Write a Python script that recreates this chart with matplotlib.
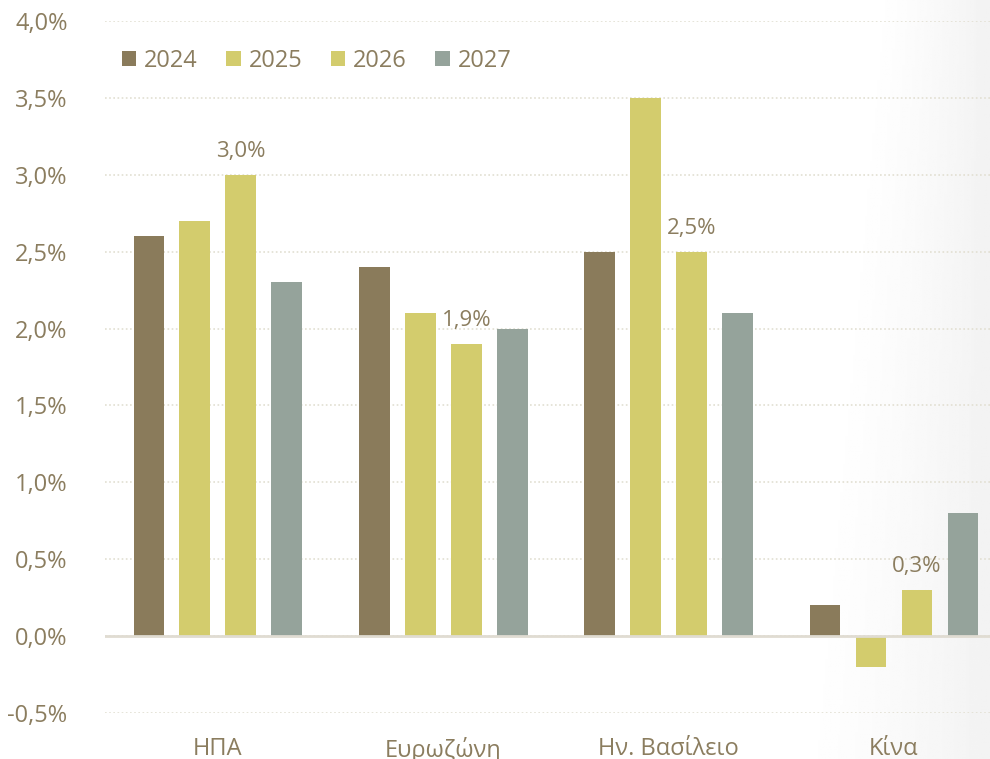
import matplotlib.pyplot as plt
import numpy as np

plt.rcParams['font.family'] = ['Open Sans', 'DejaVu Sans']

# data
countries = ['ΗΠΑ', 'Ευρωζώνη', 'Ην. Βασίλειο', 'Κίνα']
years = ['2024', '2025', '2026', '2027']
v2024 = [2.6, 2.4, 2.5, 0.2]
v2025 = [2.7, 2.1, 3.5, -0.2]
v2026 = [3.0, 1.9, 2.5, 0.3]
v2027 = [2.3, 2.0, 2.1, 0.8]
yticks = [-0.5, 0.0, 0.5, 1.0, 1.5, 2.0, 2.5, 3.0, 3.5, 4.0]

colors = ['#8a7b5b', '#d3cc6d', '#d3cc6d', '#95a39b']
text_col = '#8b7d5f'
grid_col = '#e2dfd2'

fig = plt.figure(figsize=(9.9, 7.59), dpi=100)

# light grey shading on the right side
bg = fig.add_axes([0, 0, 1, 1], zorder=-1)
gx = np.linspace(0, 1, 400)
gy = np.linspace(0, 1, 300)
X, Y = np.meshgrid(gx, gy)
start = 0.80 + 0.08 * Y
shade = np.clip((X - start) / (1 - start), 0, 1) ** 1.3
img = 1 - 0.05 * shade
bg.imshow(img, cmap='gray', vmin=0, vmax=1, aspect='auto', origin='lower',
          extent=[0, 1, 0, 1])
bg.axis('off')

ax = fig.add_axes([105 / 990, 1 - 713 / 759, 885 / 990, (713 - 21) / 759])
ax.set_facecolor('none')

x = np.arange(len(countries))
w = 0.137
step = 0.204
series = [v2024, v2025, v2026, v2027]
for i, (vals, c, yr) in enumerate(zip(series, colors, years)):
    ax.bar(x + (i - 1.5) * step, vals, width=w, color=c, label=yr, zorder=3)

# labels on 2026 bars
for xi, v in zip(x, v2026):
    ax.annotate(f'{v:.1f}%'.replace('.', ','), (xi + 0.5 * step, v),
                xytext=(0, 9), textcoords='offset points', ha='center', va='bottom',
                fontsize=16, color=text_col)

ax.set_ylim(-0.5, 4.0)
ax.set_xlim(-0.501, 3.426)
ax.set_yticks(yticks)
ax.set_yticklabels([f'{t:.1f}%'.replace('.', ',') for t in yticks])
ax.set_xticks(x)
ax.set_xticklabels(countries)
ax.tick_params(axis='both', length=0, labelsize=17, labelcolor=text_col)
ax.tick_params(axis='y', pad=27)
ax.tick_params(axis='x', pad=17)

for s in ax.spines.values():
    s.set_visible(False)
ax.grid(axis='y', linestyle=(0, (1, 1.5)), color=grid_col, linewidth=1.2, zorder=0)
ax.axhline(0, color='#e0dcd2', linewidth=2, zorder=4)

leg = ax.legend(loc='upper left', bbox_to_anchor=(-0.005, 0.99), ncol=4, frameon=False,
                fontsize=17, handlelength=0.6, handleheight=0.6, handletextpad=0.35,
                columnspacing=1.2)
for t in leg.get_texts():
    t.set_color(text_col)

fig.savefig('out.png', dpi=100)
